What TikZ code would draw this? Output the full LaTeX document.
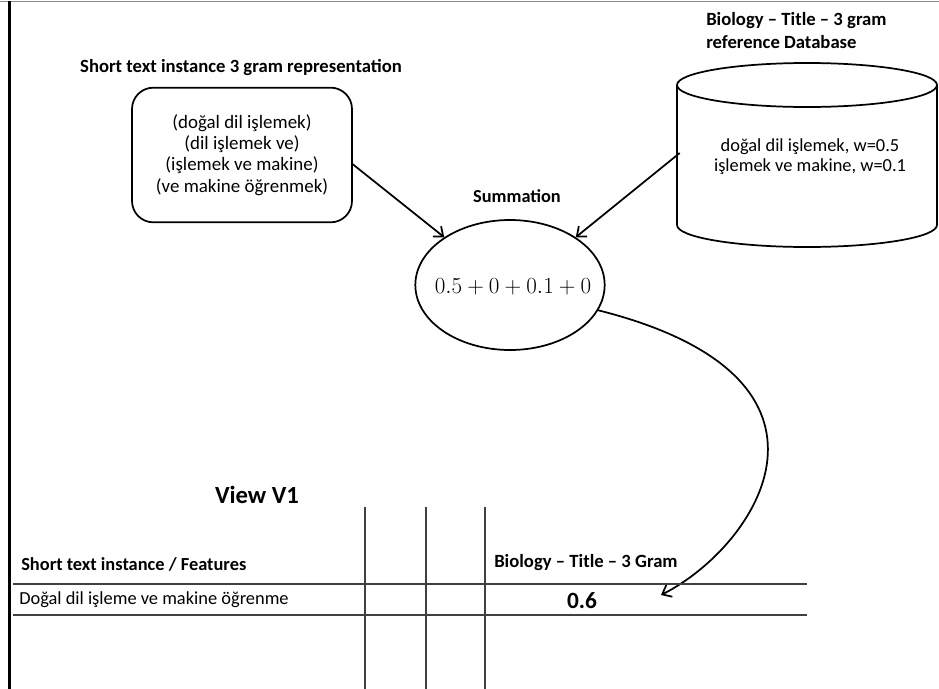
\documentclass[tikz,border=0pt]{standalone}
\usepackage{fontspec}
\setmainfont{Carlito}
\usetikzlibrary{shapes.geometric,arrows.meta}
\begin{document}
\begin{tikzpicture}[x=0.75pt,y=-0.75pt,
  line/.style={line width=1.3pt},
  arr/.style={line, -{Straight Barb[length=6pt,width=10pt,line width=1.3pt]}},
  title/.style={font=\fontsize{14}{17}\selectfont\bfseries, inner sep=0pt},
  body/.style={font=\fontsize{14.2}{16}\selectfont, align=center, inner sep=0pt},
  cell/.style={inner sep=0pt, anchor=west},
  grid/.style={line width=0.9pt, draw=black!75}
]
\useasboundingbox (0,0) rectangle (939,689);
% frame
\draw[line width=1.2pt, draw=black!45] (0,1.5) -- (939,1.5);
\draw[line width=1.6pt] (9.5,1) -- (9.5,689);

% short text box
\node[title] (t1) at (241,68) {Short text instance 3 gram representation};
\node[body, draw, line width=1.3pt, rounded corners=16pt, minimum width=165pt, minimum height=101pt] (box) at (242,155)
  {(doğal dil işlemek)\\(dil işlemek ve)\\(işlemek ve makine)\\(ve makine öğrenmek)};

% database cylinder
\node[title, align=left, anchor=west, font=\fontsize{14}{17.25}\selectfont\bfseries] (t2) at (706,31) {Biology – Title – 3 gram\\reference Database};
\draw[line] (807,85) ellipse [x radius=97.5pt, y radius=16.5pt];
\draw[line] (677,85) -- (677,225) arc[start angle=180, end angle=360, x radius=97.5pt, y radius=16.5pt] -- (937,85);
\node[body, minimum width=195pt, minimum height=100pt, font=\fontsize{13.8}{15}\selectfont] (db) at (810,157)
  {doğal dil işlemek, w=0.5\\işlemek ve makine, w=0.1};

% summation
\node[title, font=\fontsize{13.75}{17}\selectfont\bfseries] (t3) at (517,196) {Summation};
\node[ellipse, draw, line width=1.3pt, minimum width=142pt, minimum height=97.5pt, inner sep=0pt] (sum) at (510,285) {};
\node[inner sep=0pt] (sumtext) at (513,287) {\fontsize{19}{22}\selectfont$0.5+0+0.1+0$};

\draw[arr] ([yshift=-7pt]box.east) -- (sum.144);
\draw[arr] ([yshift=3pt]db.west) -- (sum.36);
\coordinate (tip) at (661,595);
\draw[arr] (sum.-16) .. controls (868,378) and (758,546) .. (tip);

% table
\node[title, font=\fontsize{18.5}{20}\selectfont\bfseries] (view) at (257,495) {View V1};
\draw[grid] (365,507) -- (365,689);
\draw[grid] (426,507) -- (426,689);
\draw[grid] (485,507) -- (485,689);
\draw[grid] (13,584) -- (807,584);
\draw[grid] (13,615) -- (807,615);
\node[cell, font=\fontsize{13.8}{16}\selectfont\bfseries] (h1) at (21,564) {Short text instance / Features};
\node[cell, font=\fontsize{14}{16}\selectfont\bfseries] (h2) at (494,563) {Biology – Title – 3 Gram};
\node[cell, font=\fontsize{13.8}{16}\selectfont] (r1) at (19,600) {Doğal dil işleme ve makine öğrenme};
\node[inner sep=0pt, font=\fontsize{17.5}{20}\selectfont\bfseries] (v) at (582,601) {0.6};
\end{tikzpicture}
\end{document}
